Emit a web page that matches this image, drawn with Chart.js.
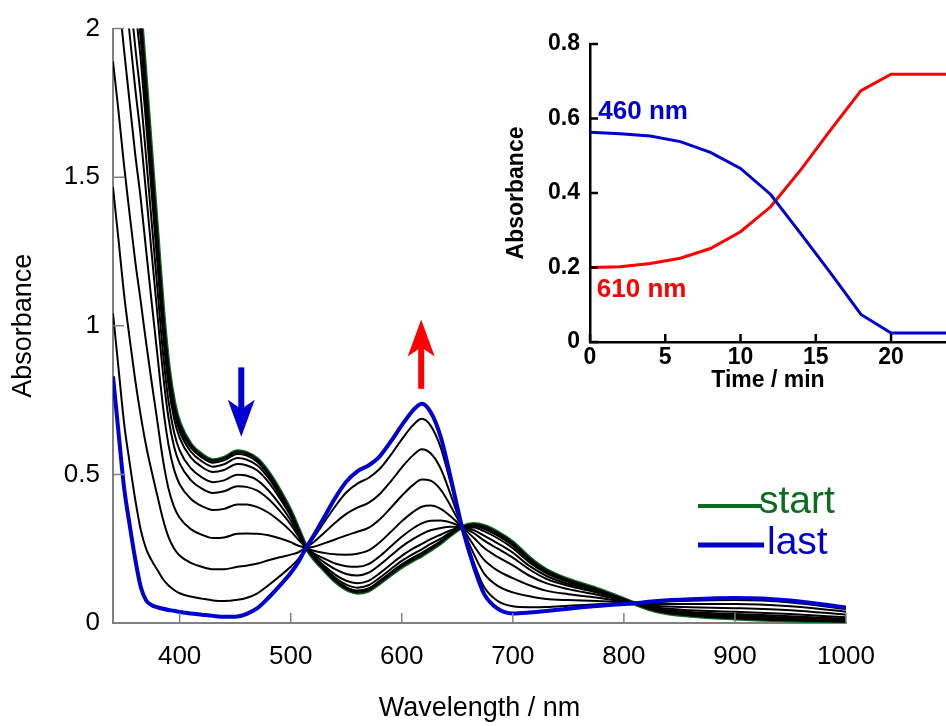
<!DOCTYPE html>
<html>
<head>
<meta charset="utf-8">
<script src="https://cdn.jsdelivr.net/npm/chart.js@4.4.0/dist/chart.umd.min.js"></script>
<style>
html, body { margin: 0; padding: 0; background: #fff; overflow: hidden; }
#wrap { position: relative; width: 946px; height: 726px; }
#main { position: absolute; left: 0; top: 0; }
#inset { position: absolute; left: 490px; top: 0; }
</style>
</head>
<body>
<div id="wrap">
  <canvas id="main" width="946" height="726"></canvas>
  <canvas id="inset" width="456" height="400"></canvas>
</div>
<script>
'use strict'

// ---- main spectra (absorbance vs wavelength, one curve every 2 min) ----
const wavelength = [340,345,350,355,360,365,370,375,380,385,390,395,400,410,420,430,440,452,460,470,480,490,500,507,514,520,530,540,550,560,570,580,590,600,610,618,626,635,644,654,665,674,686,700,715,730,750,775,800,808,830,860,900,950,1000];

const specStart = [2.95,2.80,2.62,2.42,2.22,2.04,1.80,1.55,1.30,1.05,0.86,0.74,0.67,0.60,0.565,0.547,0.555,0.577,0.572,0.55,0.505,0.445,0.375,0.315,0.255,0.222,0.18,0.142,0.115,0.103,0.11,0.135,0.163,0.19,0.212,0.228,0.247,0.27,0.297,0.322,0.332,0.326,0.305,0.27,0.218,0.178,0.145,0.115,0.08,0.068,0.04,0.025,0.016,0.009,0.004];
const spec2min = [2.918,2.768,2.588,2.389,2.19,2.011,1.774,1.528,1.281,1.035,0.848,0.73,0.66,0.591,0.557,0.539,0.547,0.569,0.564,0.542,0.499,0.44,0.372,0.313,0.255,0.223,0.183,0.146,0.12,0.109,0.116,0.141,0.17,0.197,0.22,0.236,0.254,0.275,0.3,0.322,0.33,0.323,0.301,0.266,0.215,0.176,0.144,0.114,0.08,0.068,0.041,0.026,0.017,0.01,0.005];
const spec4min = [2.865,2.714,2.533,2.336,2.14,1.963,1.731,1.49,1.25,1.01,0.827,0.712,0.645,0.577,0.544,0.526,0.534,0.555,0.55,0.53,0.488,0.432,0.367,0.311,0.255,0.225,0.187,0.153,0.129,0.119,0.127,0.152,0.181,0.209,0.232,0.248,0.266,0.284,0.305,0.322,0.326,0.317,0.295,0.261,0.211,0.172,0.141,0.113,0.079,0.068,0.041,0.027,0.019,0.012,0.006];
const spec6min = [2.791,2.638,2.458,2.263,2.07,1.896,1.671,1.438,1.207,0.975,0.799,0.688,0.623,0.557,0.525,0.508,0.515,0.535,0.531,0.513,0.474,0.421,0.36,0.307,0.255,0.227,0.193,0.163,0.142,0.134,0.142,0.167,0.197,0.226,0.25,0.266,0.282,0.297,0.312,0.322,0.321,0.309,0.286,0.252,0.204,0.168,0.138,0.111,0.079,0.068,0.043,0.029,0.021,0.014,0.008];
const spec8min = [2.653,2.498,2.317,2.127,1.939,1.771,1.559,1.341,1.125,0.91,0.746,0.642,0.581,0.521,0.49,0.474,0.48,0.499,0.496,0.48,0.446,0.4,0.346,0.3,0.255,0.232,0.205,0.181,0.165,0.16,0.169,0.195,0.226,0.257,0.282,0.299,0.312,0.32,0.324,0.323,0.312,0.294,0.269,0.237,0.192,0.159,0.131,0.107,0.078,0.068,0.045,0.033,0.026,0.018,0.011];
const spec10min = [2.505,2.346,2.165,1.981,1.799,1.637,1.438,1.237,1.038,0.84,0.689,0.593,0.537,0.481,0.452,0.437,0.443,0.46,0.458,0.445,0.417,0.378,0.332,0.292,0.255,0.236,0.217,0.2,0.191,0.189,0.198,0.224,0.257,0.29,0.318,0.335,0.344,0.345,0.338,0.323,0.302,0.278,0.251,0.22,0.18,0.149,0.125,0.103,0.077,0.068,0.047,0.037,0.03,0.023,0.014];
const spec12min = [2.272,2.109,1.927,1.751,1.578,1.426,1.248,1.073,0.901,0.729,0.599,0.516,0.467,0.418,0.393,0.38,0.384,0.399,0.399,0.39,0.371,0.343,0.309,0.28,0.255,0.244,0.236,0.231,0.23,0.233,0.244,0.271,0.306,0.342,0.373,0.391,0.395,0.384,0.359,0.324,0.286,0.253,0.223,0.194,0.159,0.134,0.114,0.096,0.075,0.067,0.051,0.043,0.038,0.03,0.019];
const spec14min = [1.89,1.72,1.538,1.375,1.218,1.081,0.938,0.805,0.677,0.549,0.452,0.391,0.354,0.316,0.297,0.286,0.288,0.3,0.301,0.3,0.295,0.285,0.272,0.26,0.255,0.256,0.268,0.281,0.295,0.307,0.32,0.348,0.387,0.428,0.464,0.483,0.479,0.449,0.394,0.325,0.26,0.213,0.177,0.151,0.127,0.109,0.097,0.086,0.072,0.067,0.057,0.053,0.05,0.043,0.028];
const spec16min = [1.466,1.288,1.105,0.957,0.817,0.697,0.593,0.507,0.427,0.349,0.289,0.251,0.227,0.202,0.189,0.181,0.181,0.189,0.193,0.2,0.211,0.221,0.23,0.238,0.255,0.27,0.303,0.337,0.367,0.388,0.404,0.433,0.476,0.523,0.564,0.585,0.571,0.52,0.432,0.326,0.231,0.167,0.126,0.103,0.09,0.081,0.077,0.074,0.069,0.067,0.064,0.064,0.064,0.056,0.038];
const spec18min = [1.042,0.856,0.672,0.539,0.416,0.313,0.248,0.209,0.178,0.148,0.126,0.111,0.1,0.089,0.082,0.076,0.074,0.078,0.084,0.1,0.127,0.157,0.189,0.216,0.254,0.283,0.338,0.392,0.439,0.469,0.488,0.518,0.565,0.618,0.665,0.687,0.664,0.591,0.471,0.327,0.202,0.122,0.075,0.056,0.053,0.054,0.058,0.063,0.066,0.066,0.071,0.075,0.077,0.069,0.047];
const specLast = [0.83,0.64,0.455,0.33,0.215,0.121,0.075,0.06,0.053,0.048,0.044,0.041,0.037,0.032,0.028,0.024,0.021,0.022,0.03,0.05,0.085,0.125,0.168,0.205,0.254,0.29,0.355,0.42,0.475,0.51,0.53,0.56,0.61,0.665,0.715,0.738,0.71,0.627,0.49,0.327,0.188,0.099,0.049,0.032,0.035,0.04,0.048,0.057,0.064,0.066,0.074,0.08,0.084,0.076,0.052];

const blackSpectra = [spec18min, spec16min, spec14min, spec12min, spec10min, spec8min, spec6min, spec4min, spec2min, specStart];

// ---- inset: absorbance vs time ----
const timeMin = [0,2,4,6,8,10,12,14,16,18,20,22,24];
const abs460 = [0.563,0.559,0.553,0.538,0.509,0.466,0.396,0.291,0.184,0.074,0.024,0.024,0.024];
const abs610 = [0.200,0.202,0.211,0.225,0.251,0.296,0.363,0.462,0.570,0.675,0.719,0.719,0.719];

const GREEN = '#0b6b1f';
const BLUE = '#0000d0';
const RED = '#ff0000';

Chart.defaults.font.family = "'Liberation Sans', Arial, sans-serif";
Chart.defaults.color = '#000';

function toPoints(xs, ys) {
  return xs.map((x, i) => ({ x: x, y: ys[i] }));
}

// ticks pointing into the plot
const inwardTicks = {
  id: 'inwardTicks',
  afterDatasetsDraw(chart, args, opts) {
    const { ctx, chartArea, scales } = chart;
    ctx.save();
    ctx.strokeStyle = opts.color;
    ctx.lineWidth = opts.width;
    ctx.beginPath();
    scales.x.ticks.forEach(t => {
      const px = scales.x.getPixelForValue(t.value);
      ctx.moveTo(px, chartArea.bottom);
      ctx.lineTo(px, chartArea.bottom - opts.lenX);
    });
    scales.y.ticks.forEach(t => {
      const py = scales.y.getPixelForValue(t.value);
      ctx.moveTo(chartArea.left, py);
      ctx.lineTo(chartArea.left + opts.lenY, py);
    });
    ctx.stroke();
    ctx.restore();
  }
};

// arrows (in data units) + legend
const arrowMarks = [
  { x: 455.5, from: 0.86, to: 0.627, color: BLUE },
  { x: 617.5, from: 0.788, to: 1.021, color: RED }
];
const legendItems = [
  { text: 'start', color: GREEN, x1: 698, x2: 762, y: 506, lw: 4, tx: 759, ty: 513 },
  { text: 'last', color: BLUE, x1: 698, x2: 764, y: 545, lw: 5, tx: 767, ty: 554 }
];

const mainNotes = {
  id: 'mainNotes',
  afterDraw(chart) {
    const { ctx, scales } = chart;
    ctx.save();
    arrowMarks.forEach(a => {
      const px = scales.x.getPixelForValue(a.x);
      const y0 = scales.y.getPixelForValue(a.from);
      const y1 = scales.y.getPixelForValue(a.to);
      const dir = y1 > y0 ? 1 : -1;
      const head = 37, half = 13.5;
      ctx.fillStyle = a.color;
      ctx.fillRect(px - 3, Math.min(y0, y1 - dir * head * 0.7), 6, Math.abs((y1 - dir * head * 0.7) - y0));
      ctx.beginPath();
      ctx.moveTo(px, y1);
      ctx.lineTo(px - half, y1 - dir * head);
      ctx.lineTo(px, y1 - dir * head * 0.75);
      ctx.lineTo(px + half, y1 - dir * head);
      ctx.closePath();
      ctx.fill();
    });
    ctx.font = "39px 'Liberation Sans', Arial, sans-serif";
    ctx.textBaseline = 'alphabetic';
    legendItems.forEach(l => {
      ctx.strokeStyle = l.color;
      ctx.lineWidth = l.lw;
      ctx.beginPath();
      ctx.moveTo(l.x1, l.y);
      ctx.lineTo(l.x2, l.y);
      ctx.stroke();
      ctx.fillStyle = l.color;
      ctx.fillText(l.text, l.tx, l.ty);
    });
    ctx.restore();
  }
};

const mainDatasets = [];
mainDatasets.push({ data: toPoints(wavelength, specLast), borderColor: BLUE, borderWidth: 4 });
blackSpectra.forEach(s => {
  mainDatasets.push({ data: toPoints(wavelength, s), borderColor: '#000', borderWidth: 2 });
});
mainDatasets.push({ data: toPoints(wavelength, specStart), borderColor: GREEN, borderWidth: 4.5 });

new Chart(document.getElementById('main'), {
  type: 'line',
  data: { datasets: mainDatasets },
  options: {
    responsive: false,
    animation: false,
    events: [],
    elements: { point: { radius: 0 }, line: { cubicInterpolationMode: 'monotone' } },
    layout: { padding: { left: 0, right: 100, top: 23, bottom: 0 } },
    plugins: {
      legend: { display: false },
      tooltip: { enabled: false },
      inwardTicks: { color: '#808080', width: 1.5, lenX: 10, lenY: 11 }
    },
    scales: {
      x: {
        type: 'linear', min: 340, max: 1000,
        afterFit(s) { s.height = 103; },
        grid: { display: false, drawTicks: false },
        border: { display: true, color: '#808080', width: 2 },
        ticks: { stepSize: 100, includeBounds: false, padding: 18, font: { size: 26 }, callback: v => String(v) },
        title: { display: true, text: 'Wavelength / nm', font: { size: 27 }, padding: { top: 0, bottom: 1 } }
      },
      y: {
        type: 'linear', min: 0, max: 2,
        afterFit(s) { s.width = 113; },
        grid: { display: false, drawTicks: false },
        border: { display: true, color: '#808080', width: 2 },
        ticks: { stepSize: 0.5, includeBounds: false, padding: 13, font: { size: 26 }, callback: v => String(Math.round(v * 10) / 10) },
        title: { display: true, text: 'Absorbance', font: { size: 27 }, padding: { top: 7, bottom: 0 } }
      }
    }
  },
  plugins: [inwardTicks, mainNotes]
});

// inset labels in data units
const insetNotes = [
  { text: '460 nm', t: 0.55, a: 0.598, color: BLUE },
  { text: '610 nm', t: 0.45, a: 0.121, color: RED }
];
const insetLabels = {
  id: 'insetLabels',
  afterDraw(chart) {
    const { ctx, scales } = chart;
    ctx.save();
    ctx.font = "bold 26px 'Liberation Sans', Arial, sans-serif";
    ctx.textBaseline = 'alphabetic';
    insetNotes.forEach(n => {
      ctx.fillStyle = n.color;
      ctx.fillText(n.text, scales.x.getPixelForValue(n.t), scales.y.getPixelForValue(n.a));
    });
    ctx.restore();
  }
};

new Chart(document.getElementById('inset'), {
  type: 'line',
  data: {
    datasets: [
      { data: toPoints(timeMin, abs460), borderColor: BLUE, borderWidth: 3, tension: 0 },
      { data: toPoints(timeMin, abs610), borderColor: RED, borderWidth: 3, tension: 0 }
    ]
  },
  options: {
    responsive: false,
    animation: false,
    events: [],
    elements: { point: { radius: 0 } },
    layout: { padding: { left: 0, right: 0, top: 44, bottom: 0 } },
    plugins: {
      legend: { display: false },
      tooltip: { enabled: false },
      inwardTicks: { color: '#000', width: 2.5, lenX: 8, lenY: 8 }
    },
    scales: {
      x: {
        type: 'linear', min: 0, max: 23.65,
        afterFit(s) { s.height = 58; },
        grid: { display: false, drawTicks: false },
        border: { display: true, color: '#000', width: 2.5 },
        ticks: { stepSize: 5, includeBounds: false, padding: 2, font: { size: 23, weight: 'bold' } },
        title: { display: true, text: 'Time / min', font: { size: 23, weight: 'bold' }, padding: { top: 0, bottom: 6 } }
      },
      y: {
        type: 'linear', min: 0, max: 0.8,
        afterFit(s) { s.width = 100; },
        grid: { display: false, drawTicks: false },
        border: { display: true, color: '#000', width: 2.5 },
        ticks: { stepSize: 0.2, includeBounds: false, padding: 10, font: { size: 23, weight: 'bold' } },
        title: { display: true, text: 'Absorbance', font: { size: 23, weight: 'bold' }, padding: { top: 13, bottom: 0 } }
      }
    }
  },
  plugins: [inwardTicks, insetLabels]
});
</script>
</body>
</html>
